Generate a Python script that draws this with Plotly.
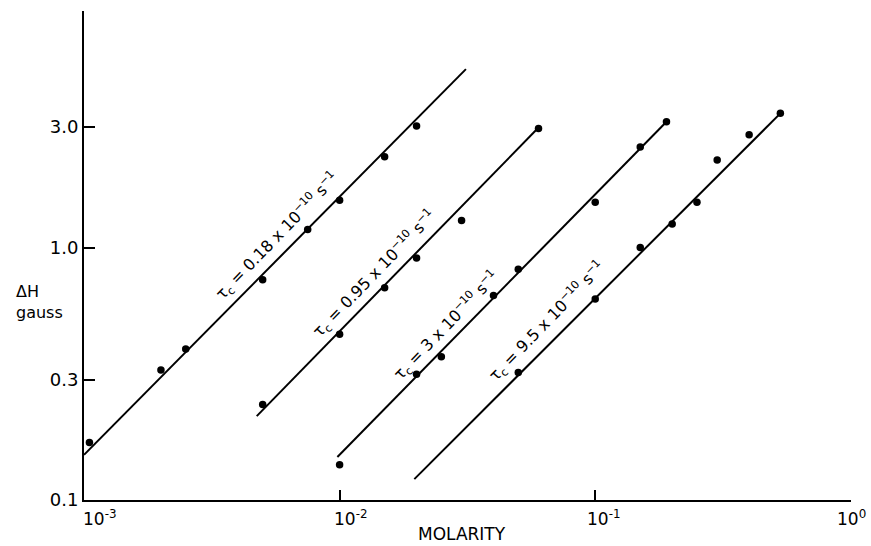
import numpy as np
import plotly.graph_objects as go

# ---- data ----
x_tick_vals = [1e-3, 1e-2, 1e-1, 1e0]
x_tick_text = ["10<sup>-3</sup>", "10<sup>-2</sup>", "10<sup>-1</sup>", "10<sup>0</sup>"]
y_tick_vals = [0.1, 0.3, 1.0, 3.0]
y_tick_text = ["0.1", "0.3", "1.0", "3.0"]

s1_x = [1.05e-3, 2e-3, 2.5e-3, 5e-3, 7.5e-3, 1e-2, 1.5e-2, 2e-2]
s1_y = [0.169, 0.327, 0.396, 0.746, 1.18, 1.54, 2.29, 3.03]
fit1_x = [1e-3, 3.12e-2]
fit1_y = [0.151, 5.09]

s2_x = [5e-3, 1e-2, 1.5e-2, 2e-2, 3e-2, 6e-2]
s2_y = [0.239, 0.453, 0.693, 0.91, 1.28, 2.96]
fit2_x = [4.74e-3, 5.95e-2]
fit2_y = [0.215, 2.96]

s3_x = [1e-2, 2e-2, 2.5e-2, 4e-2, 5e-2, 0.1, 0.15, 0.19]
s3_y = [0.138, 0.315, 0.369, 0.646, 0.82, 1.51, 2.50, 3.15]
fit3_x = [9.8e-3, 0.19]
fit3_y = [0.148, 3.15]

s4_x = [0.05, 0.1, 0.15, 0.2, 0.25, 0.3, 0.4, 0.53]
s4_y = [0.32, 0.626, 1.0, 1.24, 1.51, 2.22, 2.80, 3.40]
fit4_x = [1.96e-2, 0.53]
fit4_y = [0.121, 3.40]

labels = [
    "τ<sub>c</sub> = 0.18 x 10<sup>−10</sup> s<sup>−1</sup>",
    "τ<sub>c</sub> = 0.95 x 10<sup>−10</sup> s<sup>−1</sup>",
    "τ<sub>c</sub> = 3 x 10<sup>−10</sup> s<sup>−1</sup>",
    "τ<sub>c</sub> = 9.5 x 10<sup>−10</sup> s<sup>−1</sup>",
]
label_x = [5.74e-3, 1.37e-2, 2.62e-2, 6.47e-2]

series = [
    (s1_x, s1_y, fit1_x, fit1_y),
    (s2_x, s2_y, fit2_x, fit2_y),
    (s3_x, s3_y, fit3_x, fit3_y),
    (s4_x, s4_y, fit4_x, fit4_y),
]
label_shift = [23, 22, 20, 25]
x_label_shift = [16, 11, 9, 1]

FONT = "DejaVu Sans"
fig = go.Figure()
annotations = []
for (sx, sy, fx, fy), lab, lx, sh in zip(series, labels, label_x, label_shift):
    fig.add_trace(go.Scatter(x=fx, y=fy, mode="lines",
                             line=dict(color="black", width=2), showlegend=False,
                             hoverinfo="skip"))
    fig.add_trace(go.Scatter(x=sx, y=sy, mode="markers",
                             marker=dict(color="black", size=7.5), showlegend=False))
    lfx = np.log10(fx)
    lfy = np.log10(fy)
    llx = np.log10(lx)
    lly = lfy[0] + (llx - lfx[0]) * (lfy[1] - lfy[0]) / (lfx[1] - lfx[0])
    annotations.append(dict(x=llx, y=lly, xref="x", yref="y", text=lab,
                            showarrow=False, textangle=-46, yshift=sh,
                            font=dict(family=FONT, size=16, color="black")))

# x tick labels (hand-lettered offsets in the original)
for v, t, xs in zip(x_tick_vals, x_tick_text, x_label_shift):
    annotations.append(dict(x=np.log10(v), y=0, xref="x", yref="paper", text=t,
                            showarrow=False, xanchor="center", yanchor="top",
                            xshift=xs, yshift=-5,
                            font=dict(family=FONT, size=17, color="black")))

annotations.append(dict(x=-0.058, y=0.405, xref="paper", yref="paper",
                        text="ΔH<br>gauss", showarrow=False, align="left",
                        xanchor="center", yanchor="middle",
                        font=dict(family=FONT, size=16, color="black")))
annotations.append(dict(x=0.493, y=-0.070, xref="paper", yref="paper",
                        text="MOLARITY", showarrow=False,
                        xanchor="center", yanchor="middle",
                        font=dict(family=FONT, size=17, color="black")))

fig.update_layout(
    width=871, height=546,
    margin=dict(l=84, r=20, t=11, b=46, autoexpand=False),
    paper_bgcolor="white", plot_bgcolor="white",
    showlegend=False,
    annotations=annotations,
    font=dict(family=FONT, size=16, color="black"),
)
fig.update_xaxes(type="log", range=[-3, 0.0006], showgrid=False, zeroline=False,
                 automargin=False,
                 showline=True, linecolor="black", linewidth=2,
                 ticks="inside", ticklen=10, tickwidth=2, tickcolor="black",
                 tickvals=x_tick_vals, showticklabels=False)
fig.update_yaxes(type="log", range=[-1, 0.937], showgrid=False, zeroline=False,
                 automargin=False,
                 showline=True, linecolor="black", linewidth=2,
                 ticks="inside", ticklen=11, tickwidth=2, tickcolor="black",
                 tickvals=y_tick_vals, ticktext=y_tick_text,
                 ticklabelstandoff=0,
                 tickfont=dict(family=FONT, size=18, color="black"))

fig.write_html("out.html")
